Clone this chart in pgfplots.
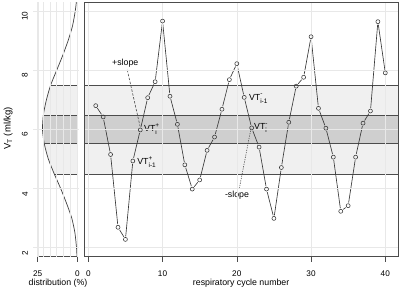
\documentclass[border=0pt]{standalone}
\usepackage{fontspec}
\setmainfont{Liberation Sans}
\usepackage{pgfplots}
\usepackage{pgfplotstable}
\pgfplotsset{compat=1.18}
\definecolor{bandlight}{gray}{0.94}
\definecolor{banddark}{gray}{0.81}
\definecolor{edge}{gray}{0.30}
\definecolor{gridc}{gray}{0.91}
\newcommand{\vtlab}[2]{VT\rlap{\raisebox{0.95ex}{\fontsize{6.5}{7}\selectfont #1}}\raisebox{-0.65ex}{\fontsize{6.5}{7}\selectfont #2}}
\pgfplotstableread{
x y
1 6.80
2 6.42
3 5.15
4 2.69
5 2.28
6 4.93
7 5.98
8 7.07
9 7.61
10 9.66
11 7.12
12 6.17
13 4.80
14 3.98
15 4.29
16 5.29
17 5.74
18 6.68
19 7.68
20 8.22
21 7.08
22 6.05
23 5.40
24 3.98
25 2.99
26 4.71
27 6.24
28 7.46
29 7.76
30 9.13
31 6.71
32 6.04
33 5.06
34 3.23
35 3.42
36 5.06
37 6.21
38 6.62
39 9.64
40 7.91
}\vt
\pgfplotstableread{
p y
0.2 1.70
0.5 2.0
1.5 2.5
3.5 3.0
6.8 3.5
10.5 4.0
14.6 4.5
18.3 5.0
20.8 5.5
22.0 6.0
21.4 6.5
19.5 7.0
16.8 7.5
13.0 8.0
9.2 8.5
5.8 9.0
3.0 9.5
1.3 10.0
0.6 10.3
}\dens
\begin{document}
\begin{tikzpicture}[font=\fontsize{8.8}{10.5}\selectfont]
\path[use as bounding box] (0,0) rectangle (400pt,290pt);
\pgfplotsset{
  common/.style={scale only axis, height=254.7pt, ymin=1.695, ymax=10.305,
    ytick={2,4,6,8,10}, axis on top, grid=major,
    grid style={draw=gridc, line width=0.4pt},
    tick align=outside, major tick length=5pt, minor tick length=0pt,
    tick style={draw=edge, line width=0.6pt},
    /pgf/number format/assume math mode=true,
    tick label style={font=\fontsize{8.2}{10}\selectfont},
    label style={font=\fontsize{8.8}{10.5}\selectfont, inner sep=0pt},
    xtick pos=left, ytick pos=left,
    xticklabel style={yshift=-5.6pt},
  }
}
% left density panel
\begin{axis}[common, at={(33pt,33.3pt)}, anchor=south west, width=46pt,
  x dir=reverse, xmin=-1.07, xmax=27.97, xtick={0,25},
  minor xtick={4.6,8.8,13.1,17.2,21.4,25.6}, grid=both,
  minor grid style={draw=gridc, line width=0.4pt},
  axis line style={draw=none}, ytick style={draw=none},
  yticklabel style={rotate=90, anchor=south, inner sep=0pt, xshift=-5.3pt},
  clip=false,
  xlabel={distribution (\%)},
  xlabel style={at={(axis description cs:0.5,0)}, anchor=base, yshift=-28.6pt, xshift=2pt}]
\addplot[fill=bandlight, draw=edge, line width=0.6pt] coordinates {(0,4.47)(27.97,4.47)(27.97,7.5)(0,7.5)} -- cycle;
\addplot[fill=banddark, draw=edge, line width=0.6pt] coordinates {(0,5.53)(27.97,5.53)(27.97,6.47)(0,6.47)} -- cycle;
\addplot[fill=white, draw=none] coordinates {(0.2,1.70)(0.5,2.0)(1.5,2.5)(3.5,3.0)(6.8,3.5)(10.5,4.0)(14.6,4.5)(18.3,5.0)(20.8,5.5)(22.0,6.0)(21.4,6.5)(19.5,7.0)(16.8,7.5)(13.0,8.0)(9.2,8.5)(5.8,9.0)(3.0,9.5)(1.3,10.0)(0.6,10.3)(28.3,10.3)(28.3,1.70)} -- cycle;
\addplot[draw=black!75, line width=0.7pt, smooth, tension=0.4] table[x=p, y=y] {\dens};
\addplot[draw=edge, line width=0.7pt] coordinates {(0,1.695)(0,10.305)};
\addplot[draw=edge, line width=0.6pt] coordinates {(0,1.695)(25,1.695)};
\end{axis}
% main panel
\begin{axis}[common, at={(84pt,33.3pt)}, anchor=south west, width=314.3pt,
  xmin=-0.58, xmax=41.75, xtick={0,10,20,30,40}, yticklabels={},
  ytick style={draw=none},
  axis line style={draw=edge, line width=0.7pt},
  xlabel={respiratory cycle number},
  xlabel style={at={(axis description cs:0.5,0)}, anchor=base, yshift=-28.6pt}]
\addplot[fill=bandlight, draw=edge, line width=0.6pt] coordinates {(-0.58,4.47)(41.75,4.47)(41.75,7.5)(-0.58,7.5)} -- cycle;
\addplot[fill=banddark, draw=edge, line width=0.6pt] coordinates {(-0.58,5.53)(41.75,5.53)(41.75,6.47)(-0.58,6.47)} -- cycle;
\pgfplotsinvokeforeach{0:1,1:2,2:3,3:4,4:5,5:6,6:7,7:8,8:9,9:10,10:11,11:12,12:13,13:14,14:15,15:16,16:17,17:18,18:19,19:20,20:21,21:22,22:23,23:24,24:25,25:26,26:27,27:28,28:29,29:30,30:31,31:32,32:33,33:34,34:35,35:36,36:37,37:38,38:39}{
  \addplot[draw=black!78, line width=0.65pt, mark=none, forget plot,
    shorten <=3.1pt, shorten >=3.1pt,
    restrict expr to domain={\coordindex}{#1}] table[x=x, y=y] {\vt};
}
\addplot[only marks, mark=o, mark size=2pt, draw=black!80, mark options={line width=0.55pt}] table[x=x, y=y] {\vt};
\addplot[draw=edge, line width=0.6pt, dash pattern=on 2.5pt off 1.5pt] coordinates {(5.25,8.01)(6.96,6.11)};
\addplot[draw=edge, line width=0.6pt, dash pattern=on 1.2pt off 1.2pt] coordinates {(20.34,4.0)(21.91,6.03)};
\node[anchor=base, inner sep=0pt] at (axis cs:4.97,8.17) {+slope};
\node[anchor=base, inner sep=0pt] at (axis cs:20.03,3.71) {-slope};
\node[anchor=base west, inner sep=0pt, xshift=3.7pt] at (axis cs:7,5.92) {\vtlab{+}{i}};
\node[anchor=base west, inner sep=0pt, xshift=4.3pt] at (axis cs:6,4.81) {\vtlab{+}{i-1}};
\node[anchor=base west, inner sep=0pt, xshift=4.6pt] at (axis cs:21,6.99) {\vtlab{-}{i-1}};
\node[anchor=base west, inner sep=0pt, xshift=2.3pt] at (axis cs:22,5.98) {\vtlab{-}{i}};
\end{axis}
\node[rotate=90, font=\fontsize{9.5}{11}\selectfont] at (8.2pt,161.7pt) {V\textsubscript{T} (ml/kg)};
\end{tikzpicture}
\end{document}
